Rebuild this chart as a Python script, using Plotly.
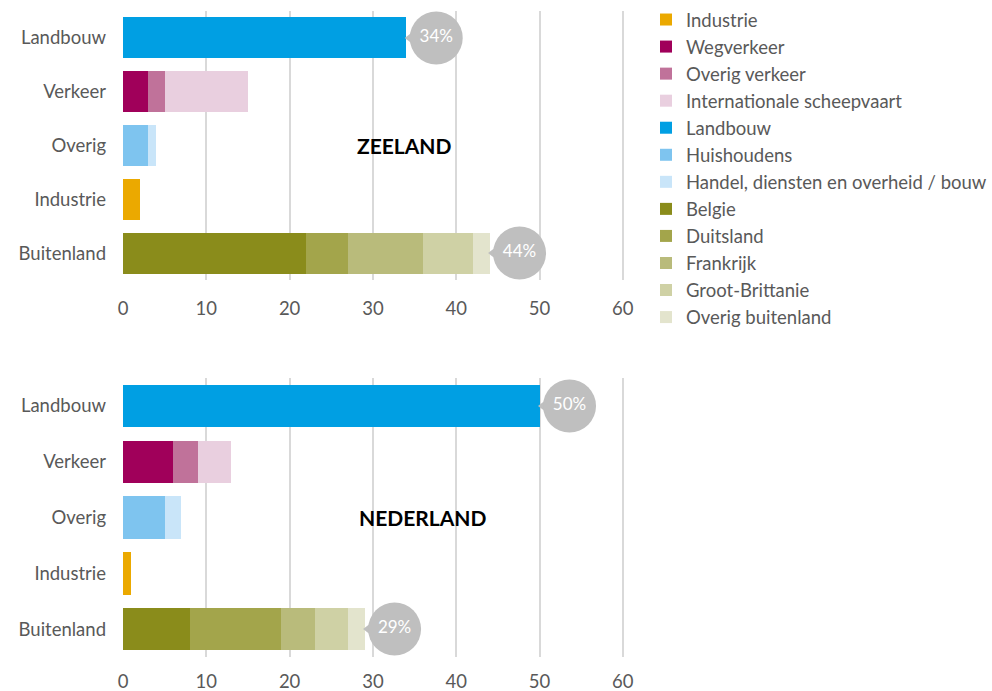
import plotly.graph_objects as go

categories = ["Landbouw", "Verkeer", "Overig", "Industrie", "Buitenland"]

series_names = ["Industrie", "Wegverkeer", "Overig verkeer", "Internationale scheepvaart",
                "Landbouw", "Huishoudens", "Handel, diensten en overheid / bouw",
                "Belgie", "Duitsland", "Frankrijk", "Groot-Brittanie", "Overig buitenland"]
series_category = ["Industrie", "Verkeer", "Verkeer", "Verkeer",
                   "Landbouw", "Overig", "Overig",
                   "Buitenland", "Buitenland", "Buitenland", "Buitenland", "Buitenland"]
series_colors = ["#EBA900", "#A0005A", "#C0729A", "#E9CFDF",
                 "#009FE3", "#7EC4EF", "#C9E5F9",
                 "#8A8C1B", "#A3A54B", "#B9BB7B", "#CFD1A5", "#E3E4CD"]

zeeland_values = [2, 3, 2, 10, 34, 3, 1, 22, 5, 9, 6, 2]
nederland_values = [1, 6, 3, 4, 50, 5, 2, 8, 11, 4, 4, 2]

callout_categories = ["Landbouw", "Buitenland"]
zeeland_callouts = [34, 44]
nederland_callouts = [50, 29]

x_ticks = [0, 10, 20, 30, 40, 50, 60]

FONT = "Lato"
GREY = "#595959"
FS = 18.5

fig = go.Figure()

for panel, (vals, xa, ya) in enumerate([(zeeland_values, "x", "y"), (nederland_values, "x2", "y2")]):
    for name, cat, col, v in zip(series_names, series_category, series_colors, vals):
        fig.add_trace(go.Bar(
            y=[cat], x=[v], orientation="h", name=name,
            marker=dict(color=col, line=dict(width=0)),
            width=0.76, xaxis=xa, yaxis=ya,
            showlegend=(panel == 0), legendgroup=name,
        ))

def totals(vals):
    t = {}
    for cat, v in zip(series_category, vals):
        t[cat] = t.get(cat, 0) + v
    return t

for vals, callouts, xa, ya in [(zeeland_values, zeeland_callouts, "x", "y"),
                                (nederland_values, nederland_callouts, "x2", "y2")]:
    t = totals(vals)
    ends = [t[c] for c in callout_categories]
    fig.add_trace(go.Scatter(
        x=[e + 0.9 for e in ends], y=callout_categories, mode="markers",
        marker=dict(symbol="triangle-left", size=18, color="#BFBFBF"),
        xaxis=xa, yaxis=ya, showlegend=False, hoverinfo="skip", cliponaxis=False))
    fig.add_trace(go.Scatter(
        x=[e + 3.6 for e in ends], y=callout_categories, mode="markers+text",
        marker=dict(symbol="circle", size=53, color="#BFBFBF"),
        text=[f"{c}%" for c in callouts], textposition="middle center",
        textfont=dict(family=FONT, size=17, color="white"),
        xaxis=xa, yaxis=ya, showlegend=False, hoverinfo="skip", cliponaxis=False))

fig.add_annotation(x=33.8, y="Overig", xref="x", yref="y", text="<b>ZEELAND</b>",
                   showarrow=False, font=dict(family=FONT, size=21, color="black"))
fig.add_annotation(x=35.9, y="Overig", xref="x2", yref="y2", text="<b>NEDERLAND</b>",
                   showarrow=False, font=dict(family=FONT, size=21, color="black"))

xaxis_common = dict(range=[0, 62], tickvals=x_ticks, showgrid=True, gridcolor="#D9D9D9",
                    gridwidth=2, zeroline=False, showline=False, ticks="",
                    tickfont=dict(family=FONT, size=FS, color=GREY),
                    fixedrange=True, automargin=False)
yaxis_common = dict(categoryorder="array", categoryarray=categories, range=[4.5, -0.5],
                    showgrid=False, zeroline=False, showline=False, ticks="",
                    tickfont=dict(family=FONT, size=FS, color=GREY),
                    ticklabelstandoff=16, automargin=False)

W, H = 992, 691
fig.update_layout(
    width=W, height=H,
    margin=dict(l=0, r=0, t=0, b=0),
    paper_bgcolor="white", plot_bgcolor="white",
    barmode="stack", bargap=0.24,
    font=dict(family=FONT, color=GREY),
    xaxis=dict(domain=[123 / W, 639.5 / W], anchor="y", ticklabelstandoff=15, **xaxis_common),
    xaxis2=dict(domain=[123 / W, 639.5 / W], anchor="y2", ticklabelstandoff=11, **xaxis_common),
    yaxis=dict(domain=[1 - 280 / H, 1 - 11 / H], anchor="x", **yaxis_common),
    yaxis2=dict(domain=[1 - 657 / H, 1 - 378 / H], anchor="x2", **yaxis_common),
    legend=dict(x=646 / W, y=1 - 1 / H, xanchor="left", yanchor="top",
                traceorder="grouped", tracegroupgap=0,
                font=dict(family=FONT, size=FS, color=GREY),
                itemwidth=30, bgcolor="rgba(0,0,0,0)"),
)

fig.write_html("out.html", config={"displayModeBar": False},
               post_script="document.body.style.margin='0';document.body.style.overflow='hidden';")
